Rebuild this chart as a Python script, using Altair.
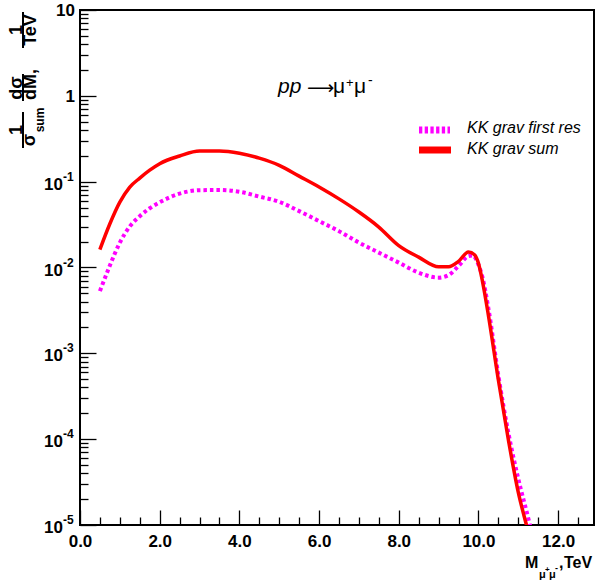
import altair as alt
import pandas as pd

# Dimuon invariant mass (TeV) and normalised distribution, summed KK graviton tower
sum_mass = [0.5, 0.75, 1.0, 1.25, 1.5, 1.75, 2.0, 2.5, 3.0, 3.5, 4.0, 4.5, 5.0, 5.5,
            6.0, 6.5, 7.0, 7.5, 8.0, 8.5, 9.0, 9.25, 9.5, 9.75, 9.9, 10.0, 10.1,
            10.25, 10.5, 10.75, 11.0, 11.2, 11.25]
sum_dist = [0.0162, 0.0323, 0.0577, 0.0865, 0.110, 0.136, 0.162, 0.199, 0.227, 0.227,
            0.214, 0.188, 0.155, 0.116, 0.0867, 0.063, 0.0443, 0.0296, 0.0180, 0.0132,
            0.0102, 0.0102, 0.0118, 0.0152, 0.0141, 0.0112, 0.00695, 0.00277, 4.9e-4,
            9.9e-5, 2.4e-5, 1.02e-5, 8.3e-6]

# First KK graviton resonance only
first_mass = [0.5, 0.75, 1.0, 1.25, 1.5, 1.75, 2.0, 2.5, 3.0, 3.5, 4.0, 4.5, 5.0, 5.5,
              6.0, 6.5, 7.0, 7.5, 8.0, 8.5, 9.0, 9.25, 9.5, 9.75, 9.85, 10.0, 10.1,
              10.25, 10.5, 10.75, 11.0, 11.25, 11.35]
first_dist = [0.00531, 0.01054, 0.0195, 0.0301, 0.0396, 0.049, 0.0575, 0.0726, 0.0795,
              0.080, 0.0762, 0.067, 0.0583, 0.0454, 0.0347, 0.0265, 0.0195, 0.0149,
              0.0114, 0.00871, 0.00762, 0.00815, 0.0104, 0.0136, 0.0138, 0.0108,
              0.00773, 0.00333, 5.5e-4, 1.19e-4, 3.44e-5, 1.2e-5, 7.6e-6]

legend_labels = ["KK grav first res", "KK grav sum"]

x_major = [0, 2, 4, 6, 8, 10, 12]
x_all = [v / 2 for v in range(0, 26)]
y_exponents = [1, 0, -1, -2, -3, -4, -5]
y_minor = [m * 10.0 ** e for e in range(-5, 1) for m in range(2, 10)]
y_all = [10.0 ** e for e in y_exponents] + y_minor

W, H = 514, 515
FONT = "Liberation Sans, Arial, Helvetica, sans-serif"
MAGENTA = "#ff00ff"
RED = "#ff0000"

xs = alt.Scale(domain=[0, 12.9], nice=False, zero=False)
ys = alt.Scale(type="log", domain=[1e-5, 10], nice=False)

# ROOT-style inward ticks: short dashed pieces of the grid, next to the frame edge
x_axis = alt.Axis(
    values=x_all, title=None, ticks=False, domain=False,
    grid=True, gridColor="black", gridWidth=1.3, gridOpacity=1, gridCap="butt",
    gridDash={"condition": {"test": "datum.value % 2 === 0",
                            "value": [0, H - 15, 15, 2 * H]},
              "value": [0, H - 8, 8, 2 * H]},
    labelExpr="datum.value % 2 === 0 ? datum.label : ''",
    labelFont=FONT, labelFontSize=17, labelFontWeight="bold", labelColor="black",
    labelPadding=8, labelFlush=False, labelOverlap=False,
)
y_axis = alt.Axis(
    values=y_all, title=None, ticks=False, domain=False, labels=False,
    grid=True, gridColor="black", gridWidth=1.3, gridOpacity=1, gridCap="butt",
    gridDash={"condition": {"test": "abs(log(datum.value) / LN10 - "
                                    "round(log(datum.value) / LN10)) < 0.001",
                            "value": [16, 2 * W]},
              "value": [8, 2 * W]},
)

one = pd.DataFrame({"k": [0]})


def note(txt, x, y, size, **kw):
    props = dict(text=txt, font=FONT, fontSize=size, color="black", align="left",
                 baseline="alphabetic")
    props.update(kw)
    return alt.Chart(one).mark_text(**props).encode(x=alt.value(x), y=alt.value(y))


def vtext(txt, x, y, size, **kw):
    props = dict(text=txt, font=FONT, fontSize=size, color="black", align="center",
                 baseline="middle", angle=270, fontWeight="bold")
    props.update(kw)
    return alt.Chart(one).mark_text(**props).encode(x=alt.value(x), y=alt.value(y))


def hline(x1, x2, y, **kw):
    return alt.Chart(one).mark_rule(**kw).encode(
        x=alt.value(x1), x2=alt.value(x2), y=alt.value(y))


def vline(x, y1, y2, **kw):
    return alt.Chart(one).mark_rule(**kw).encode(
        x=alt.value(x), y=alt.value(y1), y2=alt.value(y2))


first_df = pd.DataFrame({"mass": first_mass, "dist": first_dist})
sum_df = pd.DataFrame({"mass": sum_mass, "dist": sum_dist})

first_line = alt.Chart(first_df).mark_line(
    color=MAGENTA, strokeWidth=4, strokeDash=[3.5, 3], strokeCap="butt",
    clip=True, interpolate="monotone"
).encode(x=alt.X("mass:Q", scale=xs, axis=x_axis),
         y=alt.Y("dist:Q", scale=ys, axis=y_axis))

sum_line = alt.Chart(sum_df).mark_line(
    color=RED, strokeWidth=3.5, clip=True, interpolate="monotone"
).encode(x=alt.X("mass:Q", scale=xs, axis=x_axis),
         y=alt.Y("dist:Q", scale=ys, axis=y_axis))

# y tick labels: plain for 10 and 1, base + superscript exponent below 1
plain_df = pd.DataFrame({"v": [10.0, 1.0], "t": ["10", "1"]})
pow_df = pd.DataFrame({"v": [10.0 ** e for e in y_exponents if e < 0],
                       "t": [str(e) for e in y_exponents if e < 0]})
ylab_plain = alt.Chart(plain_df).mark_text(
    font=FONT, fontSize=17, fontWeight="bold", align="right", baseline="middle",
    color="black", dy=1
).encode(y=alt.Y("v:Q", scale=ys, axis=y_axis), x=alt.value(-5), text="t:N")
ylab_base = alt.Chart(pow_df).mark_text(
    font=FONT, fontSize=17, fontWeight="bold", align="right", baseline="middle",
    color="black", text="10", dy=3
).encode(y=alt.Y("v:Q", scale=ys, axis=y_axis), x=alt.value(-17))
ylab_exp = alt.Chart(pow_df).mark_text(
    font=FONT, fontSize=12, fontWeight="bold", align="left", baseline="middle",
    color="black", dy=-5
).encode(y=alt.Y("v:Q", scale=ys, axis=y_axis), x=alt.value(-17), text="t:N")

# process label
title = [
    note("pp", 198, 83, 21, fontStyle="italic"),
    note("\u27f6", 227, 84, 19, font="DejaVu Sans"),
    note("\u03bc", 253, 83, 21),
    note("+", 266, 77, 13),
    note("\u03bc", 274, 83, 21),
    note("-", 288, 75, 14),
]

# legend
legend = [
    hline(339, 370, 120, color=MAGENTA, strokeWidth=7, strokeDash=[3.3, 2.4],
          strokeCap="butt"),
    hline(339, 371, 140, color=RED, strokeWidth=7),
    note(legend_labels[0], 387, 118, 16, fontStyle="italic", baseline="middle"),
    note(legend_labels[1], 387, 139, 16, fontStyle="italic", baseline="middle"),
]

# x axis title  M_{mu+mu-}, TeV
xtitle = [
    note("M", 445, 558, 16, fontWeight="bold"),
    note("\u03bc", 459, 568, 11, fontWeight="bold"),
    note("+", 465, 562, 8, fontWeight="bold"),
    note("\u03bc", 469, 568, 11, fontWeight="bold"),
    note("-", 475, 561, 9, fontWeight="bold"),
    note(",", 479, 558, 16, fontWeight="bold"),
    note("TeV", 484, 558, 16, fontWeight="bold"),
]

# y axis title  1/sigma_sum dsigma/dM, 1/TeV
ytitle = [
    vtext("1", -63, 120, 18),
    vline(-57, 102, 138, color="black", strokeWidth=2),
    vtext("\u03c3", -50, 130, 18),
    vtext("sum", -40, 110, 12),
    vtext("d\u03c3", -63, 78, 18),
    vline(-57, 64, 91, color="black", strokeWidth=2),
    vtext("dM,", -49, 90, 18, align="left"),
    vtext("1", -63, 20, 18),
    vline(-57, 2, 38, color="black", strokeWidth=2),
    vtext("TeV", -49, 20, 18),
]

chart = alt.layer(
    first_line, sum_line,
    ylab_plain, ylab_base, ylab_exp,
    *title, *legend, *xtitle, *ytitle,
).properties(
    width=W, height=H,
    padding={"left": 80, "top": 10, "right": 4, "bottom": 58},
    autosize=alt.AutoSizeParams(type="none"),
).configure_view(stroke="black", strokeWidth=2)

chart.save("out.html", embed_options={"renderer": "svg", "actions": False})
